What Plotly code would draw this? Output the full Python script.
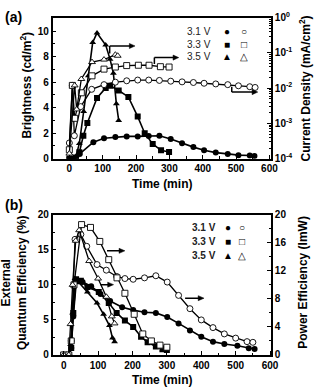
import plotly.graph_objects as go

# ---------------- Panel (a) data ----------------
t_a_b31 = [0, 10, 20, 31, 72, 104, 138, 172, 205, 238, 270, 304, 338, 372, 404, 439, 475, 507, 541, 555]
bright_31 = [0, 0, 0.05, 0.38, 1.3, 1.6, 1.7, 1.75, 1.75, 1.78, 1.8, 1.55, 1.21, 0.91, 0.66, 0.48, 0.38, 0.28, 0.25, 0.22]

t_a_b33 = [0, 10, 20, 30, 42, 54, 83, 109, 122, 148, 177, 205, 226, 250, 275, 299]
bright_33 = [0, 0, 0.1, 0.5, 1.8, 2.8, 4.76, 5.54, 5.72, 5.34, 4.84, 3.3, 2.0, 1.16, 0.66, 0.53]

t_a_b35 = [0, 10, 20, 30, 43, 57, 70, 83, 109, 122, 132, 141, 148]
bright_35 = [0, 0, 0.2, 1.2, 3.7, 6.5, 9.1, 9.85, 8.9, 7.8, 6.7, 4.3, 3.0]

t_a_j31 = [0, 9, 15, 34, 67, 104, 138, 172, 205, 238, 270, 304, 338, 372, 404, 439, 475, 507, 541, 557]
curr_31 = [2.8e-4, 1.2e-2, 4.5e-4, 3.0e-3, 9.3e-3, 1.26e-2, 1.48e-2, 1.62e-2, 1.70e-2, 1.70e-2, 1.66e-2,
           1.58e-2, 1.51e-2, 1.45e-2, 1.38e-2, 1.32e-2, 1.26e-2, 1.17e-2, 1.10e-2, 1.05e-2]

t_a_j33 = [0, 9, 16, 36, 68, 104, 138, 172, 207, 239, 273, 299]
curr_33 = [1.8e-4, 1.2e-2, 1.4e-3, 7.4e-3, 2.24e-2, 3.47e-2, 3.98e-2, 4.37e-2, 4.47e-2, 4.47e-2, 4.07e-2, 3.98e-2]

t_a_j35 = [0, 16, 22, 36, 68, 104, 138, 145]
curr_35 = [1.4e-4, 1.2e-2, 2.5e-3, 1.82e-2, 5.5e-2, 6.46e-2, 8.9e-2, 8.3e-2]

# ---------------- Panel (b) data ----------------
t_b_e31 = [0, 15, 22, 28, 37, 55, 80, 107, 135, 170, 202, 235, 268, 301, 334, 367, 400, 434, 467, 505, 538, 555]
eqe_31 = [0, 0, 1.0, 5.5, 10.6, 10.4, 9.8, 8.7, 7.7, 6.8, 6.4, 6.1, 6.0, 5.4, 4.5, 3.5, 2.6, 1.9, 1.55, 1.3, 0.95, 0.85]

t_b_e33 = [0, 15, 22, 28, 36, 50, 69, 102, 131, 154, 178, 202, 225, 244, 268, 287, 300]
eqe_33 = [0, 0, 1.0, 6.0, 10.8, 10.6, 9.7, 9.0, 7.4, 6.0, 4.9, 4.0, 2.6, 1.8, 1.2, 0.8, 0.7]

t_b_e35 = [0, 15, 20, 26, 33, 45, 69, 97, 116, 133, 142, 148]
eqe_35 = [0, 0, 1.5, 6.0, 10.9, 10.3, 9.0, 7.4, 5.8, 4.2, 2.4, 1.9]

t_b_p31 = [0, 15, 22, 33, 50, 67, 97, 124, 154, 178, 202, 235, 268, 301, 334, 367, 400, 434, 467, 500, 533, 550]
pe_31 = [0, 0, 2.0, 16.5, 17.2, 15.5, 12.9, 12.1, 11.2, 10.9, 10.8, 11.0, 11.3, 10.4, 8.5, 6.6, 5.0, 3.9, 3.0, 2.4, 1.9, 1.8]

t_b_p33 = [0, 15, 22, 30, 52, 78, 105, 131, 155, 178, 205, 230, 255, 280, 300]
pe_33 = [0, 0, 2.0, 10.0, 18.6, 18.2, 16.2, 13.6, 11.0, 8.8, 5.8, 3.0, 2.0, 1.4, 1.1]

t_b_p35 = [0, 15, 20, 26, 35, 45, 74, 100, 124, 140, 148]
pe_35 = [0, 0, 4.4, 10.0, 16.3, 17.8, 13.4, 10.9, 8.3, 5.5, 4.5]

voltages = ["3.1 V", "3.3 V", "3.5 V"]
log_ticks = [1e-4, 1e-3, 1e-2, 1e-1, 1e0]
log_ticktext = ["10<sup>-4</sup>", "10<sup>-3</sup>", "10<sup>-2</sup>", "10<sup>-1</sup>", "10<sup>0</sup>"]

W, H = 323, 388
def px(x): return x / W
def py(y): return 1 - y / H

FONT = "Liberation Sans, Arial, sans-serif"
fig = go.Figure()

def filled(x, y, sym, xa, ya):
    fig.add_trace(go.Scatter(x=x, y=y, xaxis=xa, yaxis=ya, mode="lines+markers",
                             line=dict(color="black", width=1.6),
                             marker=dict(symbol=sym, size=6, color="black"), showlegend=False))

def opened(x, y, sym, xa, ya):
    fig.add_trace(go.Scatter(x=x, y=y, xaxis=xa, yaxis=ya, mode="lines+markers",
                             line=dict(color="black", width=1.3),
                             marker=dict(symbol=sym, size=6, color="white",
                                         line=dict(color="black", width=0.9)), showlegend=False))

# panel (a)
filled(t_a_b31, bright_31, "circle", "x", "y")
filled(t_a_b33, bright_33, "square", "x", "y")
filled(t_a_b35, bright_35, "triangle-up", "x", "y")
opened(t_a_j31, curr_31, "circle", "x", "y2")
opened(t_a_j33, curr_33, "square", "x", "y2")
opened(t_a_j35, curr_35, "triangle-up", "x", "y2")
# panel (b)
filled(t_b_e31, eqe_31, "circle", "x2", "y3")
filled(t_b_e33, eqe_33, "square", "x2", "y3")
filled(t_b_e35, eqe_35, "triangle-up", "x2", "y3")
opened(t_b_p31, pe_31, "circle", "x2", "y4")
opened(t_b_p33, pe_33, "square", "x2", "y4")
opened(t_b_p35, pe_35, "triangle-up", "x2", "y4")

tickfont = dict(family=FONT, size=10, color="black", weight="bold")
common = dict(showline=True, linecolor="black", linewidth=1.5, ticks="inside", ticklen=4,
              tickwidth=1.2, tickcolor="black", showgrid=False, zeroline=False, tickfont=tickfont)

xdom = [px(54), px(278)]
ydom_a = [py(157), py(11)]
ydom_b = [py(360), py(215)]

fig.update_layout(
    width=W, height=H, autosize=False, margin=dict(l=0, r=0, t=0, b=0),
    paper_bgcolor="white", plot_bgcolor="white", showlegend=False,
    xaxis=dict(domain=xdom, anchor="y", range=[-50, 605], dtick=100, mirror=True,
               minor=dict(dtick=50, ticks="inside", ticklen=2.5, tickcolor="black"), **common),
    yaxis=dict(domain=ydom_a, anchor="x", range=[0, 11.05], dtick=2,
               minor=dict(dtick=1, ticks="inside", ticklen=2.5, tickcolor="black"), **common),
    yaxis2=dict(overlaying="y", anchor="x", side="right", type="log", range=[-4, 0],
                tickmode="array", tickvals=log_ticks, ticktext=log_ticktext,
                minor=dict(tickmode="array", ticks="inside", ticklen=2.5, tickcolor="black",
                           tickvals=[m * 10 ** e for e in range(-4, 0) for m in range(2, 10)]),
                **common),
    xaxis2=dict(domain=xdom, anchor="y3", range=[-32, 603], dtick=100, mirror=True,
                minor=dict(dtick=50, ticks="inside", ticklen=2.5, tickcolor="black"), **common),
    yaxis3=dict(domain=ydom_b, anchor="x2", range=[0, 20], dtick=5,
                minor=dict(dtick=2.5, ticks="inside", ticklen=2.5, tickcolor="black"), **common),
    yaxis4=dict(overlaying="y3", anchor="x2", side="right", range=[0, 20], dtick=4,
                minor=dict(dtick=2, ticks="inside", ticklen=2.5, tickcolor="black"), **common),
)

ann = []
def text(x, y, s, size=12, angle=0, xanchor="center", weight="bold", color="black"):
    ann.append(dict(x=px(x), y=py(y), xref="paper", yref="paper", text=s, showarrow=False,
                    textangle=angle, xanchor=xanchor, yanchor="middle",
                    font=dict(family=FONT, size=size, color=color, weight=weight)))

text(14, 10, "(a)", size=14)
text(14, 205, "(b)", size=14)
text(27, 81, "Brightness (cd/m<sup>2</sup>)", angle=-90)
text(313, 84, "Current Density (mA/cm<sup>2</sup>)", angle=-90)
text(166, 183, "Time (min)")
text(15, 285, "External<br>Quantum Efficiency (%)", angle=-90)
text(311, 285, "Power Efficiency (lmW)", angle=-90)
text(166, 386, "Time (min)")

# legends
sym_filled = ["●", "■", "▲"]
sym_open = ["○", "□", "△"]
for i, v in enumerate(voltages):
    yy = 25 + i * 13.3
    text(218, yy, v, size=10, xanchor="right", weight="normal", color="#222")
    text(233, yy, sym_filled[i], size=10, weight="normal")
    text(250, yy, sym_open[i], size=10, weight="normal")
    yb = 228 + i * 14.6
    text(224, yb, v, size=10, xanchor="right", weight="bold", color="#222")
    text(234, yb, sym_filled[i], size=10, weight="normal")
    text(248, yb, sym_open[i], size=10, weight="normal")

# arrows drawn as shapes (shaft + filled head), pointing to the right-hand axis
shapes = []
LINE = dict(color="black", width=1.5)
def arrow(x0, x1, y, xr, yr, head_len, head_half):
    shapes.append(dict(type="line", xref=xr, yref=yr, x0=x0, x1=x1 - head_len * 0.6, y0=y, y1=y, line=LINE))
    shapes.append(dict(type="path", xref=xr, yref=yr,
                       path=f"M {x1} {y} L {x1 - head_len} {y + head_half} L {x1 - head_len} {y - head_half} Z",
                       fillcolor="black", line=dict(color="black", width=0.5)))

# panel (a): 0.342 px/min, 13.17 px/unit ; panel (b): 0.352 px/min, 7.25 px/unit
arrow(121, 197, 8.83, "x", "y", 17, 0.2)
arrow(255, 328, 7.92, "x", "y", 17, 0.2)
arrow(487, 565, 5.22, "x", "y", 17, 0.2)
arrow(126, 178, 14.86, "x2", "y3", 17, 0.36)
arrow(107, 145, 10.03, "x2", "y3", 17, 0.36)
arrow(353, 408, 8.1, "x2", "y3", 17, 0.36)
shapes += [
    dict(type="line", xref="x", yref="y", x0=121, x1=121, y0=8.25, y1=8.83, line=LINE),
    dict(type="line", xref="x", yref="y", x0=255, x1=255, y0=7.42, y1=7.92, line=LINE),
    dict(type="line", xref="x", yref="y", x0=487, x1=487, y0=5.64, y1=5.22, line=LINE),
]
fig.update_layout(annotations=ann, shapes=shapes)

fig.write_html("out.html")
